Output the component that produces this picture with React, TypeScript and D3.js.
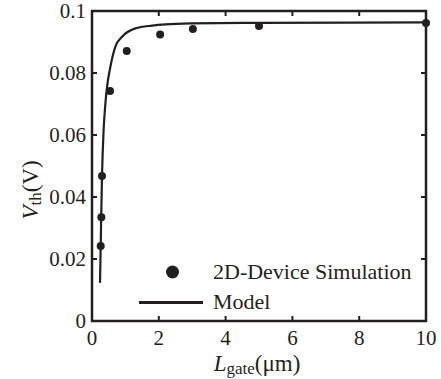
import React, { useRef, useEffect } from "react";
import * as d3 from "d3";

// 2D device simulation points (gate length in um, Vth in V)
const simL = [0.26, 0.28, 0.3, 0.54, 1.04, 2.04, 3.02, 5.0, 10.0];
const simVth = [0.0242, 0.0335, 0.0468, 0.0742, 0.0871, 0.0924, 0.0942, 0.0952, 0.0961];

// model curve
const modelL = [0.24, 0.27, 0.3, 0.35, 0.4, 0.45, 0.55, 0.7, 0.9, 1.3, 1.8, 2.2, 3, 5, 10];
const modelVth = [0.0123, 0.03, 0.047, 0.062, 0.07, 0.0755, 0.082, 0.0885, 0.0917, 0.0944, 0.0953, 0.0957, 0.096, 0.0962, 0.0963];

const xTicks = [0, 2, 4, 6, 8, 10];
const yTicks = [0, 0.02, 0.04, 0.06, 0.08, 0.1];
const yTickLabels = ["0", "0.02", "0.04", "0.06", "0.08", "0.1"];

const FONT = "Liberation Serif, Times New Roman, serif";

function App() {
  const svgRef = useRef<SVGSVGElement>(null);

  useEffect(() => {
    const w = 441;
    const h = 379;
    const m = { left: 92, right: 15, top: 11, bottom: 58 };
    const svg = d3.select(svgRef.current).attr("width", w).attr("height", h);
    svg.selectAll("*").remove();

    const x = d3.scaleLinear().domain([0, 10]).range([m.left, w - m.right]);
    const y = d3.scaleLinear().domain([0, 0.1]).range([h - m.bottom, m.top]);
    const tick = 5;

    const g = svg.append("g").attr("fill", "#231f20");
    const txt = (sel: any) => sel.attr("font-family", FONT);

    // frame
    g.append("rect")
      .attr("x", x(0))
      .attr("y", y(0.1))
      .attr("width", x(10) - x(0))
      .attr("height", y(0) - y(0.1))
      .attr("fill", "none")
      .attr("stroke", "#231f20")
      .attr("stroke-width", 2.5);

    // inward ticks on all four sides
    const inner = xTicks.slice(1, -1);
    g.selectAll(".xb").data(inner).enter().append("line")
      .attr("x1", (d) => x(d)).attr("x2", (d) => x(d))
      .attr("y1", y(0)).attr("y2", y(0) - tick)
      .attr("stroke", "#231f20").attr("stroke-width", 2);
    g.selectAll(".xt").data(inner).enter().append("line")
      .attr("x1", (d) => x(d)).attr("x2", (d) => x(d))
      .attr("y1", y(0.1)).attr("y2", y(0.1) + tick)
      .attr("stroke", "#231f20").attr("stroke-width", 2);
    const innerY = yTicks.slice(1, -1);
    g.selectAll(".yl").data(innerY).enter().append("line")
      .attr("x1", x(0)).attr("x2", x(0) + tick)
      .attr("y1", (d) => y(d)).attr("y2", (d) => y(d))
      .attr("stroke", "#231f20").attr("stroke-width", 2);
    g.selectAll(".yr").data(innerY).enter().append("line")
      .attr("x1", x(10)).attr("x2", x(10) - tick)
      .attr("y1", (d) => y(d)).attr("y2", (d) => y(d))
      .attr("stroke", "#231f20").attr("stroke-width", 2);

    // tick labels
    g.selectAll(".xl").data(xTicks).enter().append("text")
      .call(txt)
      .attr("x", (d) => x(d))
      .attr("y", y(0) + 24)
      .attr("text-anchor", "middle")
      .attr("font-size", 21)
      .text((d) => d);
    g.selectAll(".ylab").data(yTicks).enter().append("text")
      .call(txt)
      .attr("x", x(0) - 6)
      .attr("y", (d) => y(d) + 7)
      .attr("text-anchor", "end")
      .attr("font-size", 21)
      .text((d, i) => yTickLabels[i]);

    // axis titles
    const xt = g.append("text")
      .call(txt)
      .attr("x", 257)
      .attr("y", 371)
      .attr("text-anchor", "middle")
      .attr("font-size", 23);
    xt.append("tspan").attr("font-style", "italic").text("L");
    xt.append("tspan").attr("font-size", 17).attr("dy", 3).text("gate");
    xt.append("tspan").attr("dy", -3).text("(\u03bcm)");

    const yt = g.append("text")
      .call(txt)
      .attr("transform", `translate(38, ${(y(0) + y(0.1)) / 2 + 24}) rotate(-90)`)
      .attr("text-anchor", "middle")
      .attr("font-size", 23);
    yt.append("tspan").attr("font-style", "italic").text("V");
    yt.append("tspan").attr("font-size", 17).attr("dy", 3).text("th");
    yt.append("tspan").attr("dy", -3).text("(V)");

    // model line
    const line = d3.line<number>()
      .x((d, i) => x(modelL[i]))
      .y((d) => y(d))
      .curve(d3.curveMonotoneX);
    g.append("path")
      .attr("d", line(modelVth))
      .attr("fill", "none")
      .attr("stroke", "#231f20")
      .attr("stroke-width", 2.2);

    // simulation points
    g.selectAll(".pt").data(simVth).enter().append("circle")
      .attr("cx", (d, i) => x(simL[i]))
      .attr("cy", (d) => y(d))
      .attr("r", 4)
      .attr("fill", "#231f20");

    // legend
    g.append("circle").attr("cx", 172.5).attr("cy", 272).attr("r", 6.5).attr("fill", "#231f20");
    g.append("text").call(txt).attr("x", 213).attr("y", 279).attr("font-size", 22).text("2D-Device Simulation");
    g.append("line")
      .attr("x1", 139).attr("x2", 203).attr("y1", 302.5).attr("y2", 302.5)
      .attr("stroke", "#231f20").attr("stroke-width", 3);
    g.append("text").call(txt).attr("x", 213).attr("y", 309).attr("font-size", 22).text("Model");
  }, []);

  return (
    <svg ref={svgRef} style={{ position: "absolute", left: 0, top: 0, background: "#fff" }}></svg>
  );
}

export default App;
